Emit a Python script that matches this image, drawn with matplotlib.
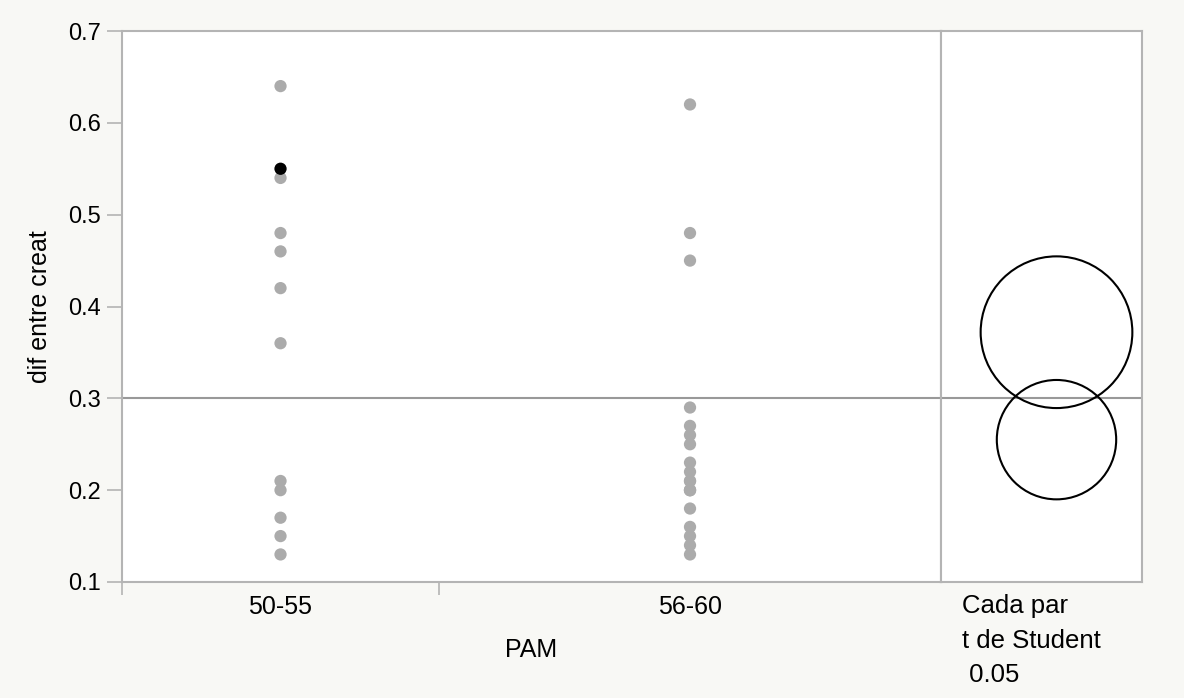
import matplotlib.pyplot as plt
from matplotlib.patches import Circle

plt.rcParams['font.family'] = ['Liberation Sans', 'DejaVu Sans']

# Dados
grupos = ['50-55', '56-60']
valores_50_55 = [0.64, 0.54, 0.48, 0.46, 0.42, 0.36, 0.21, 0.20, 0.17, 0.15, 0.13]
destaque_50_55 = [0.55]  # ponto selecionado (preto)
valores_56_60 = [0.62, 0.48, 0.45, 0.29, 0.27, 0.26, 0.25, 0.23, 0.22, 0.21,
                 0.20, 0.20, 0.20, 0.18, 0.16, 0.15, 0.14, 0.13, 0.21]
media_geral = 0.30
# círculos de comparação (centro, raio)
circ_centros = [0.372, 0.255]
circ_raios = [0.0826, 0.065]
y_ticks = [0.1, 0.2, 0.3, 0.4, 0.5, 0.6, 0.7]

cinza_eixo = '#B4B4B4'
cinza_ponto = '#ABABAB'
fundo = '#F8F8F5'

W, H = 1184, 698
fig = plt.figure(figsize=(W / 100, H / 100), dpi=100, facecolor=fundo)

x0, x1, x2 = 122, 941, 1142
ytop, ybot = 31, 582
ax = fig.add_axes([x0 / W, 1 - ybot / H, (x1 - x0) / W, (ybot - ytop) / H])
axc = fig.add_axes([x1 / W, 1 - ybot / H, (x2 - x1) / W, (ybot - ytop) / H])

# largura de cada grupo proporcional ao número de observações
n1 = len(valores_50_55) + len(destaque_50_55)
n2 = len(valores_56_60)
centros = [n1 / 2, n1 + n2 / 2]

ax.scatter([centros[0]] * len(valores_50_55), valores_50_55, s=78, color=cinza_ponto,
           edgecolors='none', zorder=3)
ax.scatter([centros[1]] * len(valores_56_60), valores_56_60, s=78, color=cinza_ponto,
           edgecolors='none', zorder=3)
ax.scatter([centros[0]] * len(destaque_50_55), destaque_50_55, s=78, color='black',
           edgecolors='none', zorder=4)

for a in (ax, axc):
    a.axhline(media_geral, color='#999999', lw=1.5, zorder=2)
    a.set_ylim(0.1, 0.7)
    a.set_facecolor('white')
    for s in a.spines.values():
        s.set_color(cinza_eixo)
        s.set_linewidth(1.5)

ax.set_xlim(0, n1 + n2)
ax.set_yticks(y_ticks)
ax.set_yticklabels([f'{v:.1f}' for v in y_ticks], fontsize=17)
ax.tick_params(axis='y', length=11, width=1.2, color=cinza_eixo, pad=4)
ax.set_xticks(centros)
ax.set_xticklabels(grupos, fontsize=18)
ax.tick_params(axis='x', length=0, pad=9)
ax.set_xticks([0, n1], minor=True)
ax.tick_params(axis='x', which='minor', length=9, width=1.2, color=cinza_eixo)
ax.set_xlabel('PAM', fontsize=18, labelpad=14)
ax.set_ylabel('dif entre creat', fontsize=18, labelpad=12)

# painel dos círculos com escala igual nos dois eixos
larg = 0.6 * (x2 - x1) / (ybot - ytop)
axc.set_xlim(0, larg)
axc.set_xticks([])
axc.set_yticks([])
cx = larg * (1056.5 - x1) / (x2 - x1)
for c, r in zip(circ_centros, circ_raios):
    axc.add_patch(Circle((cx, c), r, fill=False, edgecolor='black', lw=1.5, zorder=3))

fig.text(962 / W, 1 - 594 / H, 'Cada par\nt de Student\n 0.05', fontsize=18.5,
         va='top', ha='left', linespacing=1.56)

fig.savefig('out.png', dpi=100, facecolor=fundo)
